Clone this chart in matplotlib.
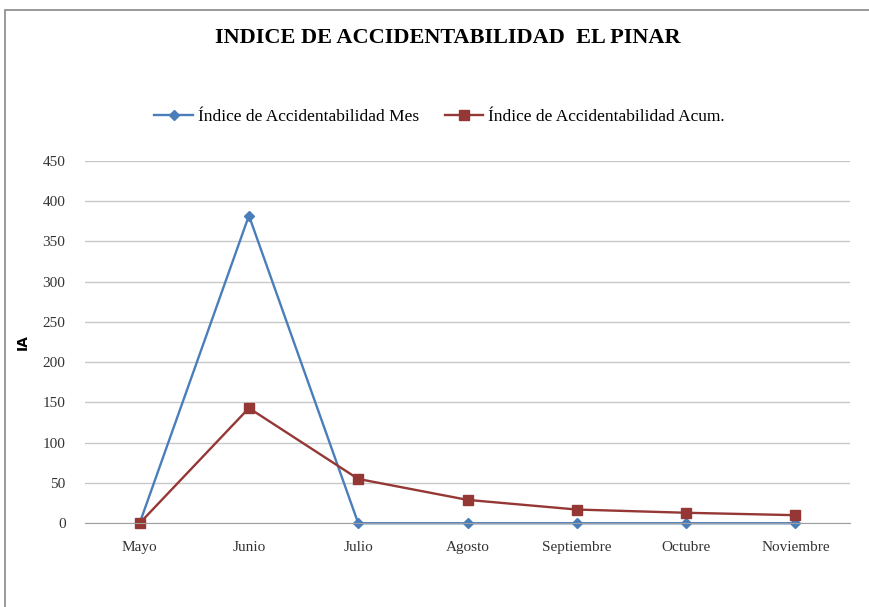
import matplotlib
matplotlib.use("Agg")
from matplotlib import pyplot as plt
from matplotlib.patches import Rectangle

meses = ["Mayo", "Junio", "Julio", "Agosto", "Septiembre", "Octubre", "Noviembre"]
ia_mes = [0, 382, 0, 0, 0, 0, 0]
ia_acum = [0, 143, 55, 29, 17, 13, 10]

plt.rcParams['font.family'] = ['Liberation Serif', 'DejaVu Serif']

fig = plt.figure(figsize=(8.69, 6.07), dpi=100)
ax = fig.add_axes([0.0978, 0.138, 0.8804, 0.597])

x = list(range(len(meses)))
ax.plot(x, ia_mes, color="#4A7EBB", lw=1.7, marker="D", ms=5, clip_on=False,
        label="Índice de Accidentabilidad Mes")
ax.plot(x, ia_acum, color="#953735", lw=1.7, marker="s", ms=7, clip_on=False,
        label="Índice de Accidentabilidad Acum.")

ax.set_xlim(-0.5, len(meses) - 0.5)
ax.set_ylim(0, 450)
ax.set_yticks(range(0, 451, 50))
ax.set_xticks(x)
ax.set_xticklabels(meses)
ax.tick_params(labelsize=11, length=0, colors="#333333")
ax.tick_params(axis="y", pad=14)
ax.tick_params(axis="x", pad=13)
ax.grid(axis="y", color="#c8c8c8", lw=1)
ax.set_axisbelow(True)
for s in ["top", "right", "left"]:
    ax.spines[s].set_visible(False)
ax.spines["bottom"].set_color("#a0a0a0")

ax.set_ylabel("IA", family="DejaVu Sans", fontweight="bold", fontsize=10, labelpad=9)

fig.text(0.515, 0.937, "INDICE DE ACCIDENTABILIDAD  EL PINAR", ha="center", va="center",
         fontsize=16, fontweight="bold")
fig.legend(loc="center", bbox_to_anchor=(0.506, 0.807), ncol=2, frameon=False,
           fontsize=12.5, handlelength=2.2, columnspacing=1.5, handletextpad=0.3)

fig.patches.append(Rectangle((0.006, -0.01), 1.0, 0.993, transform=fig.transFigure,
                             fill=False, edgecolor="#888888", lw=1.2))

plt.savefig("out.png", dpi=100)
